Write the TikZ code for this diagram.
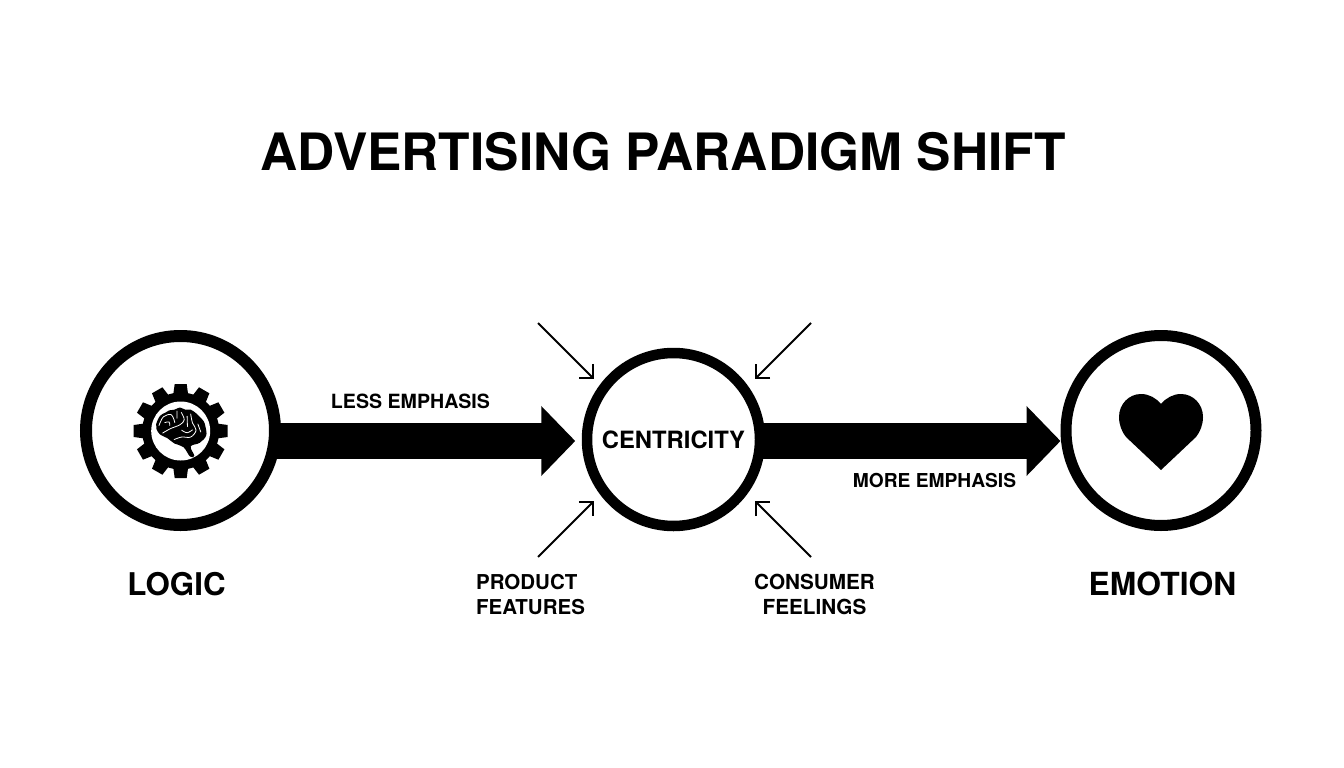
\documentclass[tikz,border=0pt]{standalone}
\usepackage{fontspec}
\setmainfont{TeX Gyre Heros}
\usetikzlibrary{arrows.meta}
\tikzset{
  x=1pt,y=-1pt,
  ring/.style={circle,draw=black,fill=white,inner sep=0pt},
  txt/.style={font=\bfseries\fontsize{#1}{25}\selectfont,text=black,align=center,inner sep=0pt},
  bigarrow/.style={line width=36pt,draw=black,-{Triangle[length=34pt,width=68pt]}},
  thinarrow/.style={line width=2pt,draw=black,-{Straight Barb[length=10pt,width=20pt]}},
}
\begin{document}
\begin{tikzpicture}
\useasboundingbox (0,0) rectangle (1344,768);
\fill[white] (0,0) rectangle (1344,768);
\node[txt=51.5] (title) at (663,151.5) {ADVERTISING PARADIGM SHIFT};
% circles
\node[ring,line width=12pt,minimum size=189pt] (logic) at (180.5,430.5) {};
\node[ring,line width=10.5pt,minimum size=173pt,txt=23.8] (centric) at (673.5,439.5) {\raisebox{-1.5pt}{CENTRICITY}};
\node[ring,line width=11pt,minimum size=190pt] (emotion) at (1161,430.5) {};
\coordinate (mid) at (673,441);
% big arrows
\draw[bigarrow,shorten <=-7pt,shorten >=6.5pt] (logic.east |- mid) -- (centric.west |- mid);
\draw[bigarrow,shorten <=-5pt] (centric.east |- mid) -- (emotion.west |- mid);
% thin arrows
\coordinate (tlS) at (538,323); \coordinate (tlE) at (594,379);
\coordinate (trS) at (811,323); \coordinate (trE) at (755,379);
\coordinate (blS) at (538,557); \coordinate (blE) at (594,501);
\coordinate (brS) at (811,557); \coordinate (brE) at (755,501);
\draw[thinarrow] (tlS) -- (tlE);
\draw[thinarrow] (trS) -- (trE);
\draw[thinarrow] (blS) -- (blE);
\draw[thinarrow] (brS) -- (brE);
% gear
\begin{scope}[shift={(180.7,431)}]
  \fill[black] (0,0) circle[radius=38.5];
  \foreach \a in {0,30,...,330}{
    \fill[black,rotate=\a] (36,-7.5) -- (47,-6) -- (47,6) -- (36,7.5) -- cycle;
  }
  \fill[white] (0,0) circle[radius=29.5];
\end{scope}
% brain
\begin{scope}[shift={(136.7,392.4)},x=0.36pt,y=-0.36pt]
  \fill[black] plot[smooth cycle,tension=0.6] coordinates {(54,88) (65,65) (80,56) (90,50) (105,48) (120,42) (135,48) (150,48) (165,58) (175,68) (186,80) (191,95) (193,120) (175,140) (150,150) (160,176) (148,178) (130,152) (105,142) (85,127) (65,117) (55,102)};
  \draw[white,line width=0.8pt,line cap=round,line join=round]
    plot[smooth,tension=0.6] coordinates {(62,92) (74,68) (96,62) (106,84)}
    plot[smooth,tension=0.6] coordinates {(72,113) (95,100) (120,90) (132,76) (124,56)}
    plot[smooth,tension=0.6] coordinates {(150,60) (155,85) (165,105) (150,124) (125,124) (104,131)}
    plot[smooth,tension=0.6] coordinates {(140,66) (141,95)}
    plot[smooth,tension=0.6] coordinates {(170,88) (178,110)}
    plot[smooth,tension=0.6] coordinates {(112,52) (112,72)}
    plot[smooth,tension=0.6] coordinates {(78,84) (90,82) (92,92)}
    plot[smooth,tension=0.6] coordinates {(125,105) (140,112) (155,104)};
\end{scope}
% heart
\fill[black] (1161,470) -- (1126,437) .. controls (1122,432) and (1119,425) .. (1119,417)
  .. controls (1119,404) and (1129,394) .. (1141,394)
  .. controls (1149,394) and (1156,398) .. (1161,404)
  .. controls (1166,398) and (1173,394) .. (1181,394)
  .. controls (1193,394) and (1203,404) .. (1203,417)
  .. controls (1203,425) and (1200,432) .. (1196,437) -- cycle;
% labels
\node[txt=19.6] (less) at (410.5,401.5) {LESS EMPHASIS};
\node[txt=19.2] (more) at (934.5,480) {MORE EMPHASIS};
\node[txt=31.3] (logiclbl) at (176.5,584) {LOGIC};
\node[txt=31.8] (emotionlbl) at (1162.5,584) {EMOTION};
\node[txt=20.5,align=left] (prod) at (530.5,594.5) {PRODUCT\\FEATURES};
\node[txt=20.7] (cons) at (814.5,594.5) {CONSUMER\\FEELINGS};
\end{tikzpicture}
\end{document}
